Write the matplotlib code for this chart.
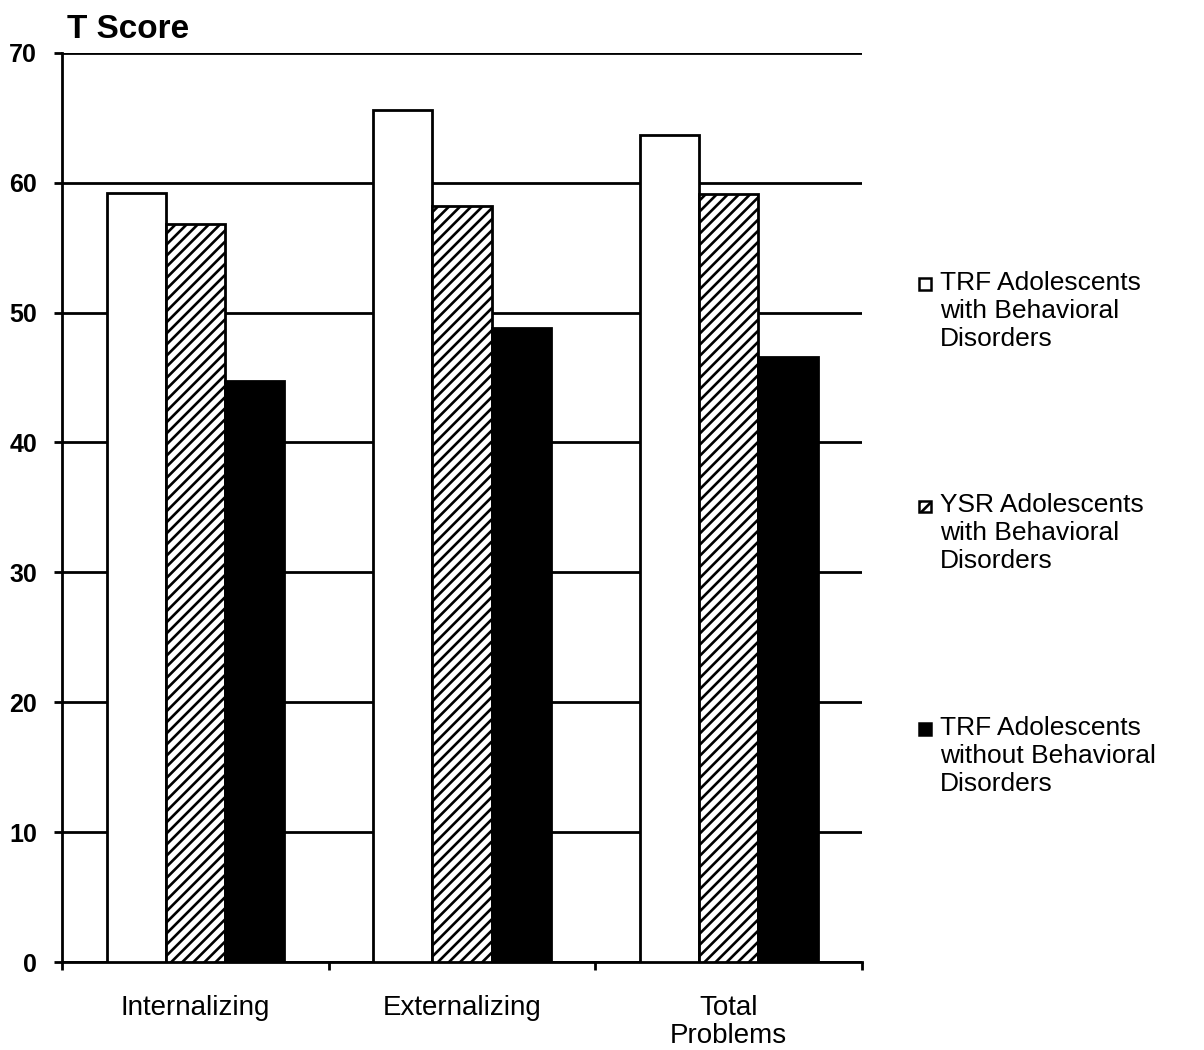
#!/usr/bin/env python3

import numpy as np
import matplotlib.pyplot as plt
from matplotlib.patches import Rectangle

plt.rcParams['font.family'] = ['Liberation Sans', 'DejaVu Sans']
plt.rcParams['hatch.linewidth'] = 1.9

# T scores per problem scale
categories = ['Internalizing', 'Externalizing', 'Total\nProblems']
trf_with = [59.2, 65.6, 63.7]
ysr_with = [56.8, 58.2, 59.1]
trf_without = [44.7, 48.8, 46.6]

series_labels = [
    'TRF Adolescents\nwith Behavioral\nDisorders',
    'YSR Adolescents\nwith Behavioral\nDisorders',
    'TRF Adolescents\nwithout Behavioral\nDisorders',
]
y_ticks = [0, 10, 20, 30, 40, 50, 60, 70]


def visualize() -> None:
    fig = plt.figure(figsize=(12.04, 10.5), dpi=100)
    ax = fig.add_axes([0.0515, 0.0838, 0.6645, 0.866])

    x = np.arange(len(categories))
    w = 0.222
    styles = [
        dict(facecolor='white', hatch=None),
        dict(facecolor='white', hatch='///'),
        dict(facecolor='black', hatch=None),
    ]
    for i, (vals, st) in enumerate(zip([trf_with, ysr_with, trf_without], styles)):
        ax.bar(x + (i - 1) * w, vals, w, color=st['facecolor'], edgecolor='black',
               linewidth=2, hatch=st['hatch'], zorder=3)

    ax.set_ylim(0, 70)
    ax.set_xlim(-0.5, 2.5)
    ax.set_yticks(y_ticks)
    ax.set_yticklabels([str(t) for t in y_ticks], fontsize=18, fontweight='bold')
    ax.set_xticks(x)
    ax.set_xticklabels(categories, fontsize=20, linespacing=1.1)
    ax.set_xticks([-0.5, 0.5, 1.5, 2.5], minor=True)
    ax.tick_params(axis='x', which='major', length=0, pad=24)
    ax.tick_params(axis='x', which='minor', length=6, width=2, direction='out')
    ax.tick_params(axis='y', length=6, width=2, direction='out', pad=12)

    ax.yaxis.grid(True, color='black', linewidth=2, zorder=0)
    ax.set_axisbelow(True)
    for side in ['top', 'right']:
        ax.spines[side].set_visible(False)
    for side in ['left', 'bottom']:
        ax.spines[side].set_linewidth(2)

    fig.text(0.056, 0.964, 'T Score', fontsize=24, fontweight='bold', va='baseline')

    # legend entries on the right, swatch next to the first line
    for i, (label, st) in enumerate(zip(series_labels, styles)):
        top = 0.738 - i * 0.212
        fig.add_artist(Rectangle((0.7635, top - 0.014), 0.0095, 0.011,
                                 transform=fig.transFigure, facecolor=st['facecolor'],
                                 edgecolor='black', linewidth=1.8, hatch=st['hatch']))
        fig.text(0.781, top + 0.004, label, fontsize=19, va='top', linespacing=1.2)

    fig.savefig('out.png', dpi=100)


if __name__ == "__main__":
    visualize()
